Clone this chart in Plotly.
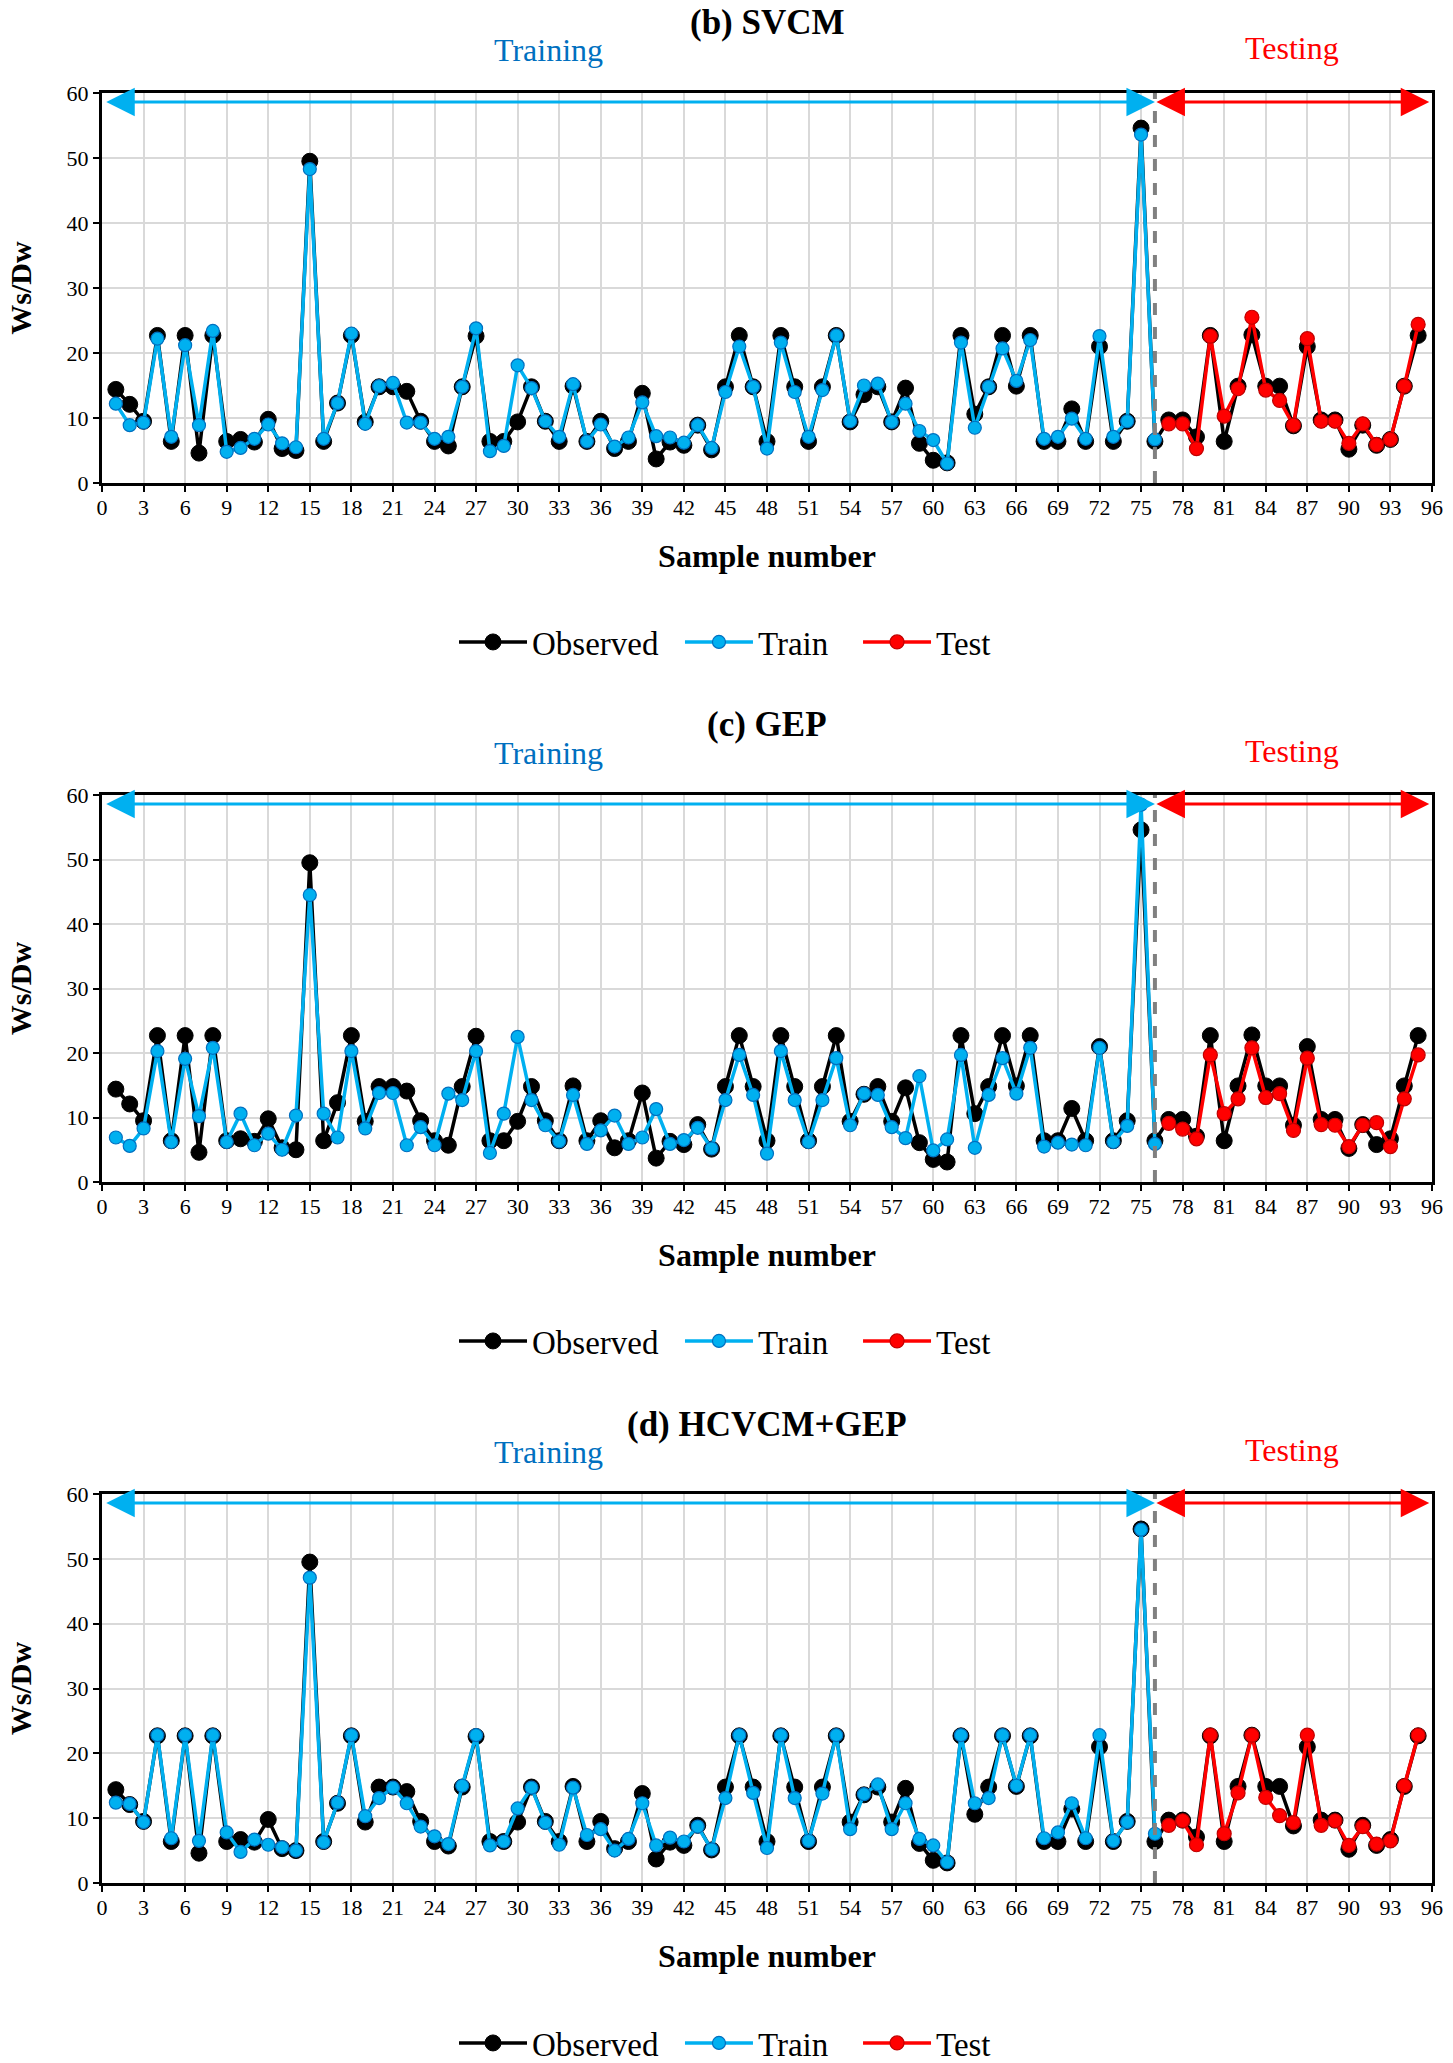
import plotly.graph_objects as go

W, H = 1453, 2063

# ---------------- data ----------------
sample_train = list(range(1, 77))
sample_test = list(range(77, 96))
sample_all = list(range(1, 96))

observed = [14.4, 12.1, 9.5, 22.7, 6.4, 22.7, 4.6, 22.7, 6.4, 6.7,
            6.3, 9.8, 5.3, 5.0, 49.5, 6.4, 12.3, 22.7, 9.4, 14.8,
            14.8, 14.1, 9.5, 6.4, 5.7, 14.8, 22.6, 6.4, 6.4, 9.4,
            14.8, 9.5, 6.4, 14.9, 6.4, 9.5, 5.3, 6.4, 13.8, 3.7,
            6.3, 5.8, 8.9, 5.1, 14.8, 22.7, 14.8, 6.4, 22.7, 14.8,
            6.4, 14.8, 22.7, 9.4, 13.6, 14.8, 9.4, 14.6, 6.1, 3.5,
            3.1, 22.7, 10.6, 14.8, 22.7, 14.9, 22.7, 6.4, 6.4, 11.4,
            6.4, 21.0, 6.4, 9.5, 54.6, 6.4, 9.7, 9.7, 7.1, 22.7,
            6.4, 14.9, 22.8, 14.9, 14.9, 8.8, 21.0, 9.7, 9.7, 5.2,
            8.9, 5.8, 6.7, 14.9, 22.7]

svcm_train = [12.2, 8.9, 9.3, 22.2, 7.1, 21.2, 8.9, 23.4, 4.8, 5.4,
              6.8, 9.0, 6.1, 5.5, 48.3, 6.8, 12.3, 23.0, 9.1, 14.9,
              15.4, 9.3, 9.3, 6.8, 7.1, 14.8, 23.8, 4.9, 5.7, 18.1,
              14.6, 9.5, 7.1, 15.2, 6.4, 9.0, 5.6, 7.0, 12.4, 7.2,
              7.0, 6.2, 8.9, 5.4, 14.0, 21.0, 14.8, 5.3, 21.6, 14.0,
              7.1, 14.3, 22.7, 9.5, 15.0, 15.3, 9.4, 12.2, 8.0, 6.6,
              3.0, 21.6, 8.5, 14.8, 20.7, 15.7, 22.0, 6.8, 7.1, 9.9,
              6.8, 22.6, 7.1, 9.5, 53.6, 6.7]
svcm_test = [9.1, 9.1, 5.3, 22.6, 10.3, 14.5, 25.5, 14.3, 12.7, 8.9,
             22.2, 9.5, 9.5, 6.1, 9.1, 5.9, 6.7, 14.9, 24.4]

gep_train = [6.9, 5.6, 8.3, 20.3, 6.2, 19.1, 10.2, 20.8, 6.2, 10.6,
             5.7, 7.5, 5.0, 10.3, 44.5, 10.6, 6.9, 20.3, 8.3, 13.8,
             13.8, 5.7, 8.5, 5.7, 13.7, 12.7, 20.3, 4.5, 10.6, 22.5,
             12.7, 8.8, 6.3, 13.5, 5.9, 8.0, 10.3, 5.9, 6.9, 11.3,
             5.9, 6.5, 8.4, 5.2, 12.7, 19.7, 13.5, 4.4, 20.3, 12.7,
             6.2, 12.7, 19.2, 8.8, 13.7, 13.5, 8.5, 6.8, 16.4, 4.9,
             6.6, 19.7, 5.3, 13.5, 19.2, 13.7, 20.8, 5.5, 6.1, 5.8,
             5.7, 20.8, 6.2, 8.7, 58.5, 5.9]
gep_test = [9.1, 8.2, 6.7, 19.7, 10.6, 12.9, 20.8, 13.1, 13.7, 8.0,
            19.2, 8.9, 8.8, 5.5, 8.8, 9.2, 5.5, 12.9, 19.7]

hyb_train = [12.4, 12.2, 9.4, 22.8, 6.9, 22.8, 6.5, 22.8, 7.8, 4.8,
             6.7, 5.9, 5.5, 5.0, 47.1, 6.3, 12.4, 22.8, 10.3, 13.1,
             14.7, 12.3, 8.7, 7.2, 6.0, 15.0, 22.8, 5.8, 6.4, 11.5,
             14.7, 9.3, 5.9, 14.7, 7.4, 8.3, 5.0, 6.8, 12.3, 5.8,
             7.0, 6.4, 8.7, 5.2, 13.1, 22.8, 13.9, 5.4, 22.8, 13.1,
             6.5, 13.8, 22.8, 8.3, 13.7, 15.2, 8.3, 12.3, 6.8, 5.8,
             3.2, 22.8, 12.3, 13.1, 22.8, 15.0, 22.8, 6.9, 7.8, 12.3,
             6.9, 22.8, 6.5, 9.4, 54.5, 7.6]
hyb_test = [8.9, 9.6, 5.9, 22.8, 7.6, 13.9, 22.8, 13.2, 10.4, 9.3,
            22.8, 8.9, 9.6, 5.8, 8.7, 6.0, 6.5, 15.0, 22.8]

panel_titles = ["(b) SVCM", "(c) GEP", "(d) HCVCM+GEP"]
series_names = ["Observed", "Train", "Test"]
train_sets = [svcm_train, gep_train, hyb_train]
test_sets = [svcm_test, gep_test, hyb_test]

x_ticks = list(range(0, 97, 3))
y_ticks = list(range(0, 61, 10))

# ---------------- layout constants ----------------
FONT = "Liberation Serif"
BLUE_LINE = "#00B0F0"
BLUE_EDGE = "#0070C0"
BLUE_TEXT = "#0070C0"
RED = "#FF0000"
NB = "\u00a0"  # spacing between legend entries

plot_left, plot_right = 102, 1432
panels_px = [  # top, bottom, title_y, label_y, legend_y
    (93, 483, 22, 50, 642),
    (795, 1182, 724, 753, 1341),
    (1494, 1883, 1424, 1452, 2043),
]


def xp(px):
    return px / W


def yp(px):
    return 1 - px / H


fig = go.Figure()
annotations = []
shapes = []
layout_axes = {}

for i, (title, trn, tst) in enumerate(zip(panel_titles, train_sets, test_sets)):
    top, bottom, title_y, label_y, legend_y = panels_px[i]
    k = "" if i == 0 else str(i + 1)
    xa, ya = "x" + k, "y" + k
    lg = "legend" + k

    fig.add_trace(go.Scatter(
        x=sample_all, y=observed, mode="lines+markers", name=series_names[0] + NB * 2,
        line=dict(color="black", width=3.5),
        marker=dict(color="black", size=16, line=dict(color="black", width=1)),
        xaxis=xa, yaxis=ya, legend=lg))
    fig.add_trace(go.Scatter(
        x=sample_train, y=trn, mode="lines+markers", name=series_names[1] + NB * 3,
        line=dict(color=BLUE_LINE, width=3.5),
        marker=dict(color=BLUE_LINE, size=13, line=dict(color=BLUE_EDGE, width=1.2)),
        xaxis=xa, yaxis=ya, legend=lg))
    fig.add_trace(go.Scatter(
        x=sample_test, y=tst, mode="lines+markers", name=series_names[2],
        line=dict(color=RED, width=3.5),
        marker=dict(color=RED, size=14, line=dict(color="#C00000", width=1.2)),
        xaxis=xa, yaxis=ya, legend=lg))

    ax_name = "xaxis" + k
    ay_name = "yaxis" + k
    layout_axes[ax_name] = dict(
        domain=[xp(plot_left), xp(plot_right)], anchor=ya, automargin=False,
        range=[0, 96], tickmode="array", tickvals=x_ticks,
        showgrid=True, gridcolor="#D9D9D9", gridwidth=2,
        showline=True, linecolor="black", linewidth=3, mirror=True,
        ticks="outside", ticklen=6, tickwidth=2, tickcolor="black",
        tickfont=dict(family=FONT, size=22, color="black"),
        ticklabelstandoff=-3,
        title=dict(text="<b>Sample number</b>", font=dict(family=FONT, size=32, color="black"),
                   standoff=26),
        zeroline=False)
    layout_axes[ay_name] = dict(
        domain=[yp(bottom), yp(top)], anchor=xa, automargin=False,
        range=[0, 60], tickmode="array", tickvals=y_ticks,
        showgrid=True, gridcolor="#D9D9D9", gridwidth=2,
        showline=True, linecolor="black", linewidth=3, mirror=True,
        ticks="outside", ticklen=6, tickwidth=2, tickcolor="black",
        tickfont=dict(family=FONT, size=22, color="black"),
        title=dict(text="<b>Ws/Dw</b>", font=dict(family=FONT, size=30, color="black"),
                   standoff=27),
        zeroline=False)

    fig.layout[lg] = dict(
        orientation="h", x=xp(725), xanchor="center", y=yp(legend_y), yanchor="middle",
        font=dict(family=FONT, size=33, color="black"), itemwidth=68,
        bgcolor="rgba(0,0,0,0)", tracegroupgap=0)

    # title and region labels
    annotations.append(dict(text="<b>%s</b>" % title, xref="paper", yref="paper",
                            x=xp(767), y=yp(title_y), showarrow=False,
                            font=dict(family=FONT, size=35, color="black"),
                            xanchor="center", yanchor="middle"))
    annotations.append(dict(text="Training", xref="paper", yref="paper",
                            x=xp(548), y=yp(label_y), showarrow=False,
                            font=dict(family=FONT, size=32, color=BLUE_TEXT),
                            xanchor="center", yanchor="middle"))
    annotations.append(dict(text="Testing", xref="paper", yref="paper",
                            x=xp(1292), y=yp(label_y - 2), showarrow=False,
                            font=dict(family=FONT, size=32, color=RED),
                            xanchor="center", yanchor="middle"))
    # double arrows
    annotations.append(dict(text="", x=76, y=58.6, ax=0.2, ay=58.6,
                            xref=xa, yref=ya, axref=xa, ayref=ya,
                            showarrow=True, arrowside="end+start", arrowhead=2,
                            arrowsize=1.9, arrowwidth=3, arrowcolor=BLUE_LINE))
    annotations.append(dict(text="", x=95.8, y=58.6, ax=76, ay=58.6,
                            xref=xa, yref=ya, axref=xa, ayref=ya,
                            showarrow=True, arrowside="end+start", arrowhead=2,
                            arrowsize=1.9, arrowwidth=3, arrowcolor=RED))
    # dashed divider
    shapes.append(dict(type="line", xref=xa, yref=ya, x0=76, x1=76, y0=0, y1=60,
                       line=dict(color="#808080", width=4, dash="dash"), layer="above"))

fig.update_layout(
    width=W, height=H, margin=dict(l=0, r=0, t=0, b=0, pad=0, autoexpand=False),
    paper_bgcolor="white", plot_bgcolor="white",
    annotations=annotations, shapes=shapes, **layout_axes)

fig.write_html("out.html")
